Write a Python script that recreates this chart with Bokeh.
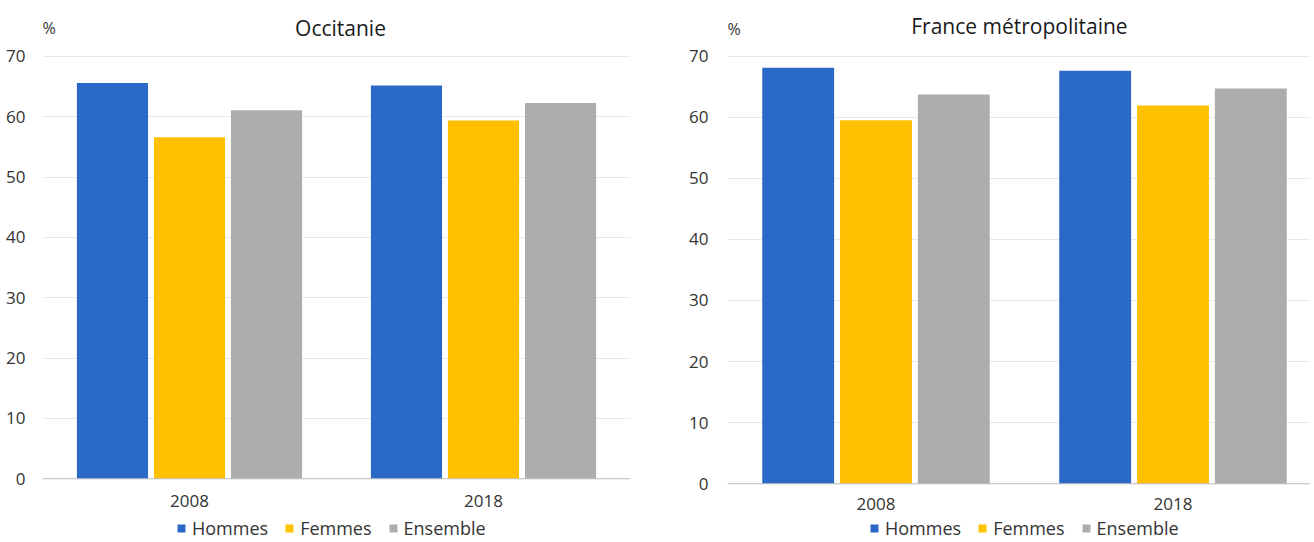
from bokeh.plotting import figure
from bokeh.models import Range1d, FixedTicker, Legend, LegendItem, Label, Span
from bokeh.core.properties import value
from bokeh.layouts import row
from bokeh.embed import file_html
from bokeh.resources import INLINE

# ---- data ----
years = ["2008", "2018"]
series = ["Hommes", "Femmes", "Ensemble"]
colors = ["#2A69C8", "#FFC000", "#ADADAD"]

occitanie_hommes = [65.6, 65.2]
occitanie_femmes = [56.6, 59.4]
occitanie_ensemble = [61.1, 62.3]

france_hommes = [68.1, 67.6]
france_femmes = [59.5, 61.9]
france_ensemble = [63.7, 64.7]

y_ticks = [0, 10, 20, 30, 40, 50, 60, 70]

FONT = "Open Sans"
TXT = "#333333"


def make_chart(title, values, width, x_end, y_start, y_end, b_left, b_right,
               ylab_standoff, xlab_offset, title_pos, pct_y, legend_loc):
    p = figure(width=width, height=540, output_backend="svg", toolbar_location=None,
               x_range=Range1d(0, x_end), y_range=Range1d(y_start, y_end),
               x_axis_location=None,
               min_border_left=b_left, min_border_right=b_right,
               min_border_top=10, min_border_bottom=0)
    p.outline_line_color = None
    p.background_fill_color = "white"
    p.border_fill_color = "white"

    step = 0.262
    bw = 0.242
    renderers = []
    for j, vals in enumerate(values):
        xs = [i + 0.5 + (j - 1) * step for i in range(len(years))]
        r = p.vbar(x=xs, top=vals, bottom=0, width=bw, fill_color=colors[j],
                   line_color=None)
        renderers.append(r)

    # category labels under the baseline
    centers = [i + 0.5 for i in range(len(years))]
    p.text(x=centers, y=[0] * len(years), text=years, y_offset=xlab_offset,
           text_align="center", text_baseline="middle",
           text_font=value(FONT), text_font_size=value("17px"), text_color=TXT)

    # baseline
    p.add_layout(Span(location=0, dimension="width", line_color="#BFBFBF", line_width=1))

    p.yaxis.ticker = FixedTicker(ticks=y_ticks)
    p.yaxis.major_tick_line_color = None
    p.yaxis.minor_tick_line_color = None
    p.yaxis.axis_line_color = None
    p.yaxis.major_label_standoff = ylab_standoff
    p.yaxis.major_label_text_font = FONT
    p.yaxis.major_label_text_font_size = "17px"
    p.yaxis.major_label_text_color = TXT

    for g in p.grid:
        if g.dimension == 0:
            g.visible = False
            g.grid_line_color = None
        else:
            g.grid_line_color = "#E9E9E9"
            g.ticker = FixedTicker(ticks=y_ticks)

    t = Label(x=title_pos[0], y=title_pos[1], text=title, text_font=FONT,
              text_font_size="21px", text_color="#1A1A1A",
              text_align="center", text_baseline="middle")
    p.add_layout(t)

    pct = Label(x=0.0, y=pct_y, text="%", text_font=FONT, text_font_size="16px",
                text_color=TXT, text_align="left", text_baseline="middle")
    p.add_layout(pct)

    legend = Legend(items=[LegendItem(label=s, renderers=[r]) for s, r in zip(series, renderers)],
                    orientation="horizontal", location=legend_loc,
                    glyph_width=10, glyph_height=10, label_standoff=6, spacing=16,
                    padding=0, margin=0, label_height=17,
                    label_text_font=FONT, label_text_font_size="18px", label_text_color=TXT,
                    background_fill_alpha=0, border_line_color=None)
    p.add_layout(legend, "center")
    return p


left = make_chart("Occitanie", [occitanie_hommes, occitanie_femmes, occitanie_ensemble],
                  width=665, x_end=2.0, y_start=-10.23, y_end=77.62, b_left=42, b_right=35,
                  ylab_standoff=11, xlab_offset=22, title_pos=(1.0136, 74.8),
                  pct_y=74.64, legend_loc=(134, 0))
right = make_chart("France métropolitaine", [france_hommes, france_femmes, france_ensemble],
                   width=645, x_end=1.963, y_start=-9.28, y_end=77.45, b_left=62, b_right=0,
                   ylab_standoff=13, xlab_offset=20, title_pos=(0.983, 74.99),
                   pct_y=74.5, legend_loc=(142, 0))

layout = row(left, right, spacing=0)
open("out.html", "w").write(file_html(layout, INLINE))
